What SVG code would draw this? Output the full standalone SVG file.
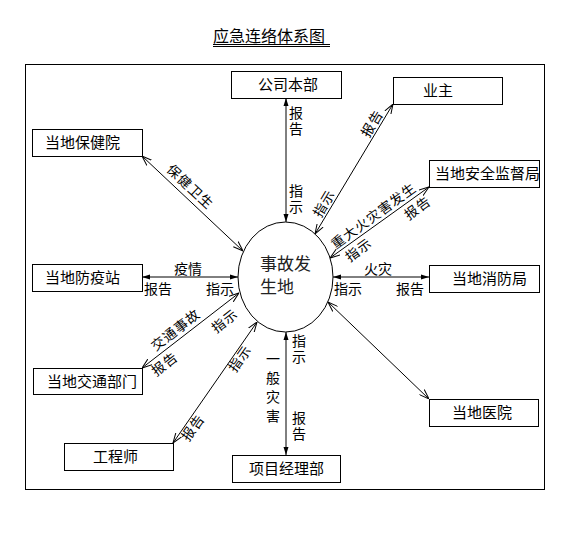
<svg xmlns="http://www.w3.org/2000/svg" width="585" height="544" viewBox="0 0 585 544">
<style>
.box{fill:#fff;stroke:#000;stroke-width:1}
.bt{font-family:"Noto Sans CJK SC","Liberation Sans",sans-serif;font-size:15px;fill:#000}
.lb{font-family:"Noto Sans CJK SC","Liberation Sans",sans-serif;font-size:14px;fill:#000}
.vt{font-family:"Noto Sans CJK SC","Liberation Sans",sans-serif;font-size:14px;fill:#000;writing-mode:vertical-rl;letter-spacing:2px}
.rl{font-family:"Noto Sans CJK SC","Liberation Sans",sans-serif;font-size:13.5px;letter-spacing:1px;fill:#000;text-anchor:middle;dominant-baseline:central}
.ln{stroke:#000;stroke-width:1;fill:none}
.st{marker-start:url(#af);marker-end:url(#af)}
.dg{marker-start:url(#ao);marker-end:url(#ao)}
</style>
<defs>
<marker id="af" viewBox="0 0 8 6" refX="8" refY="3" markerWidth="8" markerHeight="6" markerUnits="userSpaceOnUse" orient="auto-start-reverse">
<path d="M0,0.5 L8,3 L0,5.5 Z" fill="#000"/>
</marker>
<marker id="ao" viewBox="0 0 10 8" refX="10" refY="4" markerWidth="10" markerHeight="8" markerUnits="userSpaceOnUse" orient="auto-start-reverse">
<path d="M0,0.5 L10,4 L0,7.5" fill="none" stroke="#000" stroke-width="1"/>
</marker>
</defs>
<rect width="585" height="544" fill="#fff"/>
<g id="title">
<text x="213" y="42" font-family="'Noto Sans CJK SC','Liberation Sans',sans-serif" font-size="16" fill="#000">应急连络体系图</text>
<line x1="213" y1="44.5" x2="330" y2="44.5" class="ln"/>
<line x1="213" y1="46.5" x2="330" y2="46.5" class="ln"/>
</g>
<rect id="frame" x="25.5" y="64.5" width="519" height="425" class="box"/>
<g id="connectors">
<line class="ln st" x1="286" y1="98" x2="286" y2="222"/>
<line class="ln st" x1="286" y1="332" x2="286" y2="455"/>
<line class="ln st" x1="142" y1="277" x2="238" y2="277"/>
<line class="ln st" x1="333" y1="277" x2="429" y2="277"/>
<line class="ln dg" x1="393" y1="104" x2="315" y2="234"/>
<line class="ln dg" x1="429" y1="187" x2="330" y2="258"/>
<line class="ln dg" x1="142" y1="156" x2="243" y2="251"/>
<line class="ln dg" x1="142" y1="368" x2="239" y2="293"/>
<line class="ln dg" x1="173" y1="443" x2="257" y2="322"/>
<line class="ln dg" x1="429" y1="399" x2="328" y2="302"/>
<text class="vt" x="296" y="106">报告</text>
<text class="vt" x="296" y="184">指示</text>
<text class="vt" x="299" y="334">指示</text>
<text class="vt" x="299" y="411">报告</text>
<text class="vt" x="273" y="352" style="letter-spacing:5px">一般灾害</text>
<text class="lb" x="174" y="274">疫情</text>
<text class="lb" x="144" y="294">报告</text>
<text class="lb" x="206" y="294">指示</text>
<text class="lb" x="364" y="274">火灾</text>
<text class="lb" x="334" y="294">指示</text>
<text class="lb" x="396" y="294">报告</text>
<text class="rl" transform="translate(371,123) rotate(-59)">报告</text>
<text class="rl" transform="translate(323,203) rotate(-59)">指示</text>
<text class="rl" transform="translate(373,215) rotate(-36)">重大火灾害发生</text>
<text class="rl" transform="translate(417,207) rotate(-36)">报告</text>
<text class="rl" transform="translate(358,249) rotate(-36)">指示</text>
<text class="rl" transform="translate(191,186) rotate(43)">保健卫生</text>
<text class="rl" transform="translate(175,329) rotate(-38)">交通事故</text>
<text class="rl" transform="translate(164,363) rotate(-38)">报告</text>
<text class="rl" transform="translate(224,320) rotate(-38)">指示</text>
<text class="rl" transform="translate(239,358) rotate(-55)">指示</text>
<text class="rl" transform="translate(192,427) rotate(-55)">报告</text>
</g>
<g id="center">
<ellipse cx="285.5" cy="277" rx="47.5" ry="55" class="box"/>
<text x="260" y="270" font-family="'Noto Sans CJK SC','Liberation Sans',sans-serif" font-size="17" fill="#222">事故发</text>
<text x="260" y="293" font-family="'Noto Sans CJK SC','Liberation Sans',sans-serif" font-size="17" fill="#222">生地</text>
</g>
<g id="n-gongsi"><rect class="box" x="231.5" y="71.5" width="110" height="27"/><text class="bt" x="258" y="90">公司本部</text></g>
<g id="n-yezhu"><rect class="box" x="393.5" y="77.5" width="109" height="27"/><text class="bt" x="423" y="96">业主</text></g>
<g id="n-baojian"><rect class="box" x="32.5" y="129.5" width="110" height="27"/><text class="bt" x="45" y="148">当地保健院</text></g>
<g id="n-anjian"><rect class="box" x="429.5" y="160.5" width="110" height="27"/><text class="bt" x="435" y="179">当地安全监督局</text></g>
<g id="n-fangyi"><rect class="box" x="32.5" y="264.5" width="110" height="27"/><text class="bt" x="45" y="283">当地防疫站</text></g>
<g id="n-xiaofang"><rect class="box" x="429.5" y="265.5" width="110" height="27"/><text class="bt" x="452" y="284">当地消防局</text></g>
<g id="n-jiaotong"><rect class="box" x="33.5" y="368.5" width="109" height="26"/><text class="bt" x="47" y="387">当地交通部门</text></g>
<g id="n-yiyuan"><rect class="box" x="429.5" y="399.5" width="109" height="27"/><text class="bt" x="452" y="418">当地医院</text></g>
<g id="n-gongcheng"><rect class="box" x="64.5" y="443.5" width="109" height="27"/><text class="bt" x="93" y="462">工程师</text></g>
<g id="n-xiangmu"><rect class="box" x="232.5" y="455.5" width="108" height="27"/><text class="bt" x="249" y="474">项目经理部</text></g>
</svg>
